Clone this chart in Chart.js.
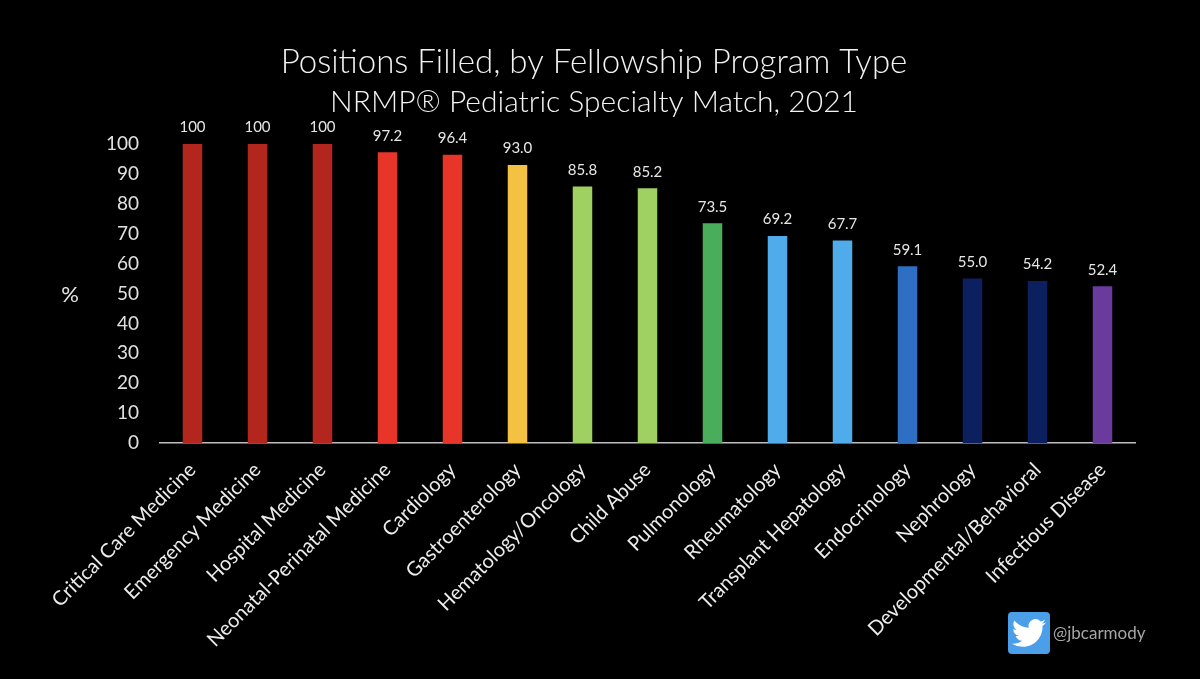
<!DOCTYPE html>
<html>
<head>
<meta charset="utf-8">
<script src="https://cdn.jsdelivr.net/npm/chart.js@4.4.1/dist/chart.umd.min.js"></script>
<style>
    html, body { margin: 0; padding: 0; background: #000; }
    #wrap { width: 1200px; height: 679px; }
</style>
</head>
<body>
<div id="wrap"><canvas id="chart" width="1200" height="679"></canvas></div>
<script>
// data
const programs = [
    'Critical Care Medicine', 'Emergency Medicine', 'Hospital Medicine', 'Neonatal-Perinatal Medicine',
    'Cardiology', 'Gastroenterology', 'Hematology/Oncology', 'Child Abuse', 'Pulmonology',
    'Rheumatology', 'Transplant Hepatology', 'Endocrinology', 'Nephrology',
    'Developmental/Behavioral', 'Infectious Disease'
];
const filledPct = [100, 100, 100, 97.2, 96.4, 93.0, 85.8, 85.2, 73.5, 69.2, 67.7, 59.1, 55.0, 54.2, 52.4];
const barColors = [
    '#b3261e', '#b3261e', '#b3261e', '#e8352a', '#e8352a', '#f5c142', '#9fd062', '#9fd062',
    '#4aad5b', '#50abeb', '#50abeb', '#2e6fc3', '#0c1f5e', '#0c1f5e', '#6a3a9c'
];
const yTicks = [0, 10, 20, 30, 40, 50, 60, 70, 80, 90, 100];

const titleText = 'Positions Filled, by Fellowship Program Type';
const subtitleText = 'NRMP\u00AE Pediatric Specialty Match, 2021';
const FONT = 'Lato, "Open Sans", sans-serif';

const birdPath = new Path2D('M23.953 4.57a10 10 0 01-2.825.775 4.958 4.958 0 002.163-2.723c-.951.555-2.005.959-3.127 1.184a4.92 4.92 0 00-8.384 4.482C7.69 8.095 4.067 6.13 1.64 3.162a4.822 4.822 0 00-.666 2.475c0 1.710.87 3.213 2.188 4.096a4.904 4.904 0 01-2.228-.616v.06a4.923 4.923 0 003.946 4.827 4.996 4.996 0 01-2.212.085 4.936 4.936 0 004.604 3.417 9.867 9.867 0 01-6.102 2.105c-.39 0-.779-.023-1.170-.067a13.995 13.995 0 007.557 2.209c9.053 0 13.998-7.496 13.998-13.985 0-.21 0-.42-.015-.63A9.935 9.935 0 0024 4.59z');

// titles, % label, value labels and twitter handle
const extras = {
    id: 'extras',
    beforeDraw(chart) {
        const ctx = chart.ctx;
        ctx.save();
        ctx.fillStyle = '#000';
        ctx.fillRect(0, 0, chart.width, chart.height);
        ctx.restore();
    },
    afterDatasetsDraw(chart) {
        const ctx = chart.ctx;
        const meta = chart.getDatasetMeta(0);
        ctx.save();
        ctx.fillStyle = '#e6e6e6';
        ctx.font = '15px ' + FONT;
        ctx.textAlign = 'center';
        ctx.textBaseline = 'bottom';
        meta.data.forEach((bar, i) => {
            const v = filledPct[i];
            const txt = v === 100 ? '100' : v.toFixed(1);
            ctx.fillText(txt, bar.x, bar.y - 9);
        });
        ctx.restore();
    },
    afterDraw(chart) {
        const ctx = chart.ctx;
        ctx.save();
        ctx.fillStyle = '#f2f2f2';
        ctx.textAlign = 'center';
        ctx.textBaseline = 'middle';
        ctx.font = '300 33px ' + FONT;
        ctx.fillText(titleText, 594, 62);
        ctx.font = '300 30px ' + FONT;
        ctx.fillText(subtitleText, 594, 102);

        ctx.font = '22px ' + FONT;
        ctx.fillStyle = '#e6e6e6';
        ctx.fillText('%', 70, 295);

        // twitter badge
        ctx.fillStyle = '#4a9fe8';
        ctx.beginPath();
        ctx.roundRect(1008, 612, 42, 42, 4);
        ctx.fill();
        ctx.translate(1012, 616);
        ctx.scale(34 / 24, 34 / 24);
        ctx.fillStyle = '#fff';
        ctx.fill(birdPath);
        ctx.setTransform(1, 0, 0, 1, 0, 0);

        ctx.fillStyle = '#a6a6a6';
        ctx.font = '17px ' + FONT;
        ctx.textAlign = 'left';
        ctx.fillText('@jbcarmody', 1053, 634);
        ctx.restore();
    }
};

new Chart(document.getElementById('chart'), {
    type: 'bar',
    data: {
        labels: programs,
        datasets: [{
            data: filledPct,
            backgroundColor: barColors,
            borderWidth: 0,
            categoryPercentage: 1,
            barPercentage: 0.3
        }]
    },
    options: {
        responsive: false,
        animation: false,
        devicePixelRatio: 1,
        layout: { padding: { top: 144, right: 65, left: 0, bottom: 0 } },
        plugins: {
            legend: { display: false },
            tooltip: { enabled: false }
        },
        scales: {
            x: {
                grid: { display: false, drawTicks: false },
                border: { display: true, color: '#bfbfbf', width: 1.5 },
                ticks: {
                    color: '#ececec',
                    font: { family: FONT, size: 20 },
                    minRotation: 45,
                    maxRotation: 45,
                    autoSkip: false,
                    padding: 15
                },
                afterFit(scale) { scale.height = 236; }
            },
            y: {
                min: 0,
                max: 100,
                grid: { display: false, drawTicks: false },
                border: { display: false },
                afterBuildTicks(scale) { scale.ticks = yTicks.map(v => ({ value: v })); },
                ticks: {
                    color: '#e0e0e0',
                    font: { family: FONT, size: 19 },
                    padding: 21
                },
                afterFit(scale) { scale.width = 160; }
            }
        }
    },
    plugins: [extras]
});
</script>
</body>
</html>
